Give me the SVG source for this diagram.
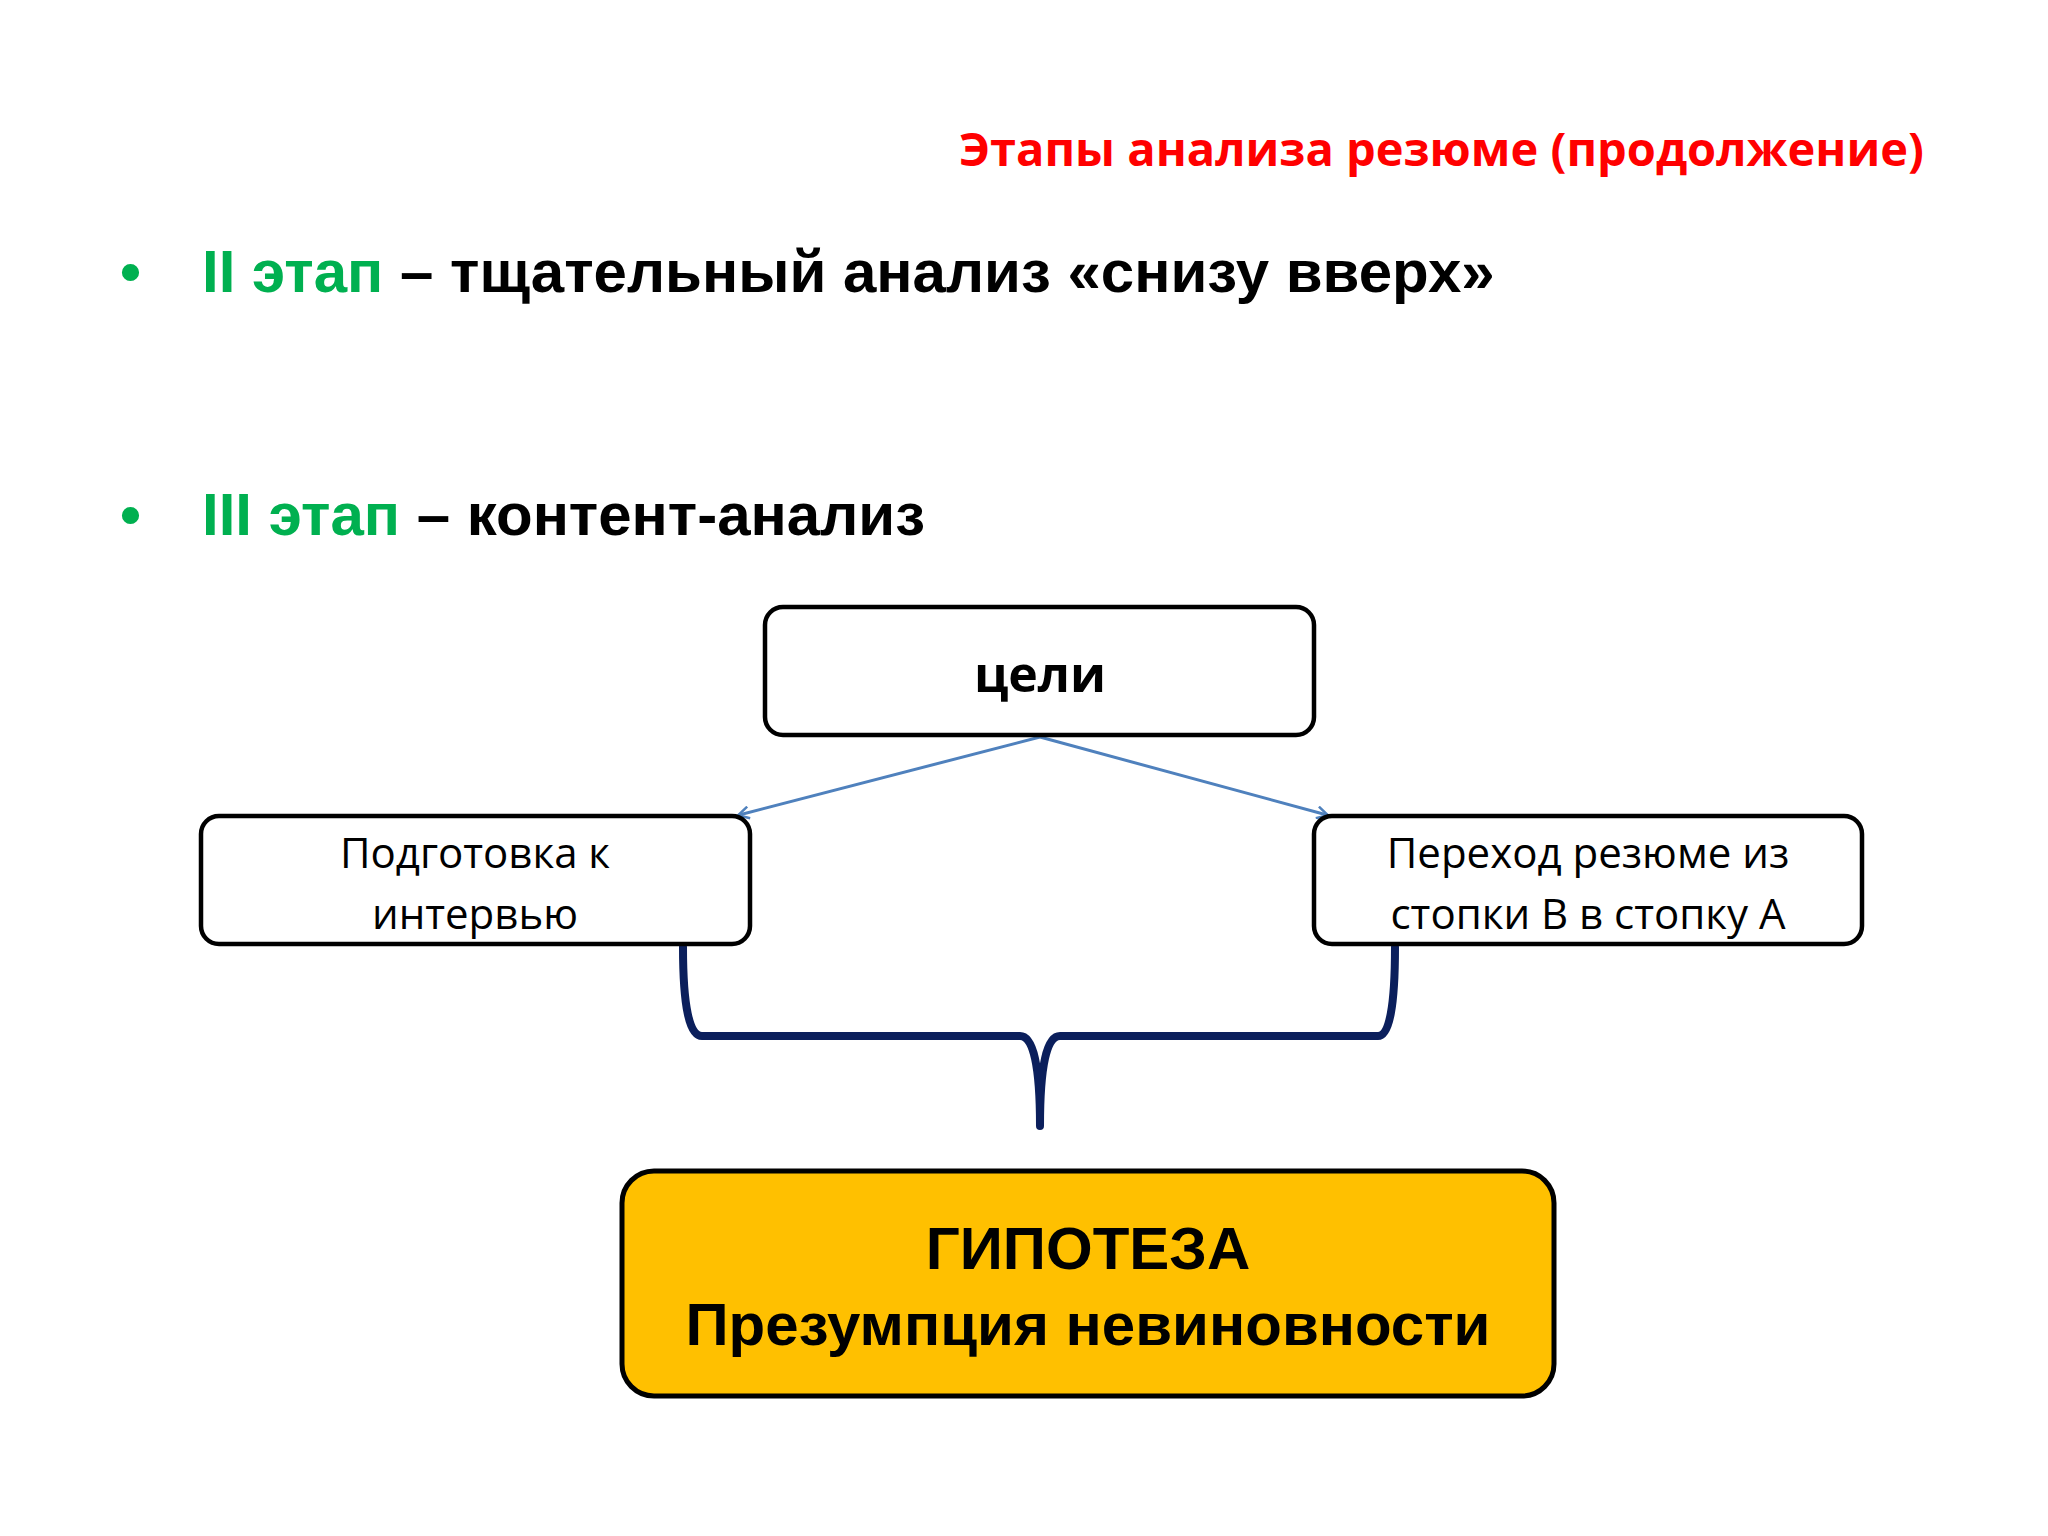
<svg xmlns="http://www.w3.org/2000/svg" width="2048" height="1536" viewBox="0 0 2048 1536">
<style>
.box{fill:#fff;stroke:#000;stroke-width:4.5}
.big{font-family:"Liberation Sans",Arial,sans-serif;font-weight:bold;font-size:60px}
.sm{font-family:"Open Sans","Noto Sans",sans-serif;font-size:42px;fill:#000}
.grn{fill:#00b050}
</style>
<defs>
<marker id="ah" markerWidth="14" markerHeight="14" refX="11" refY="7" orient="auto" markerUnits="userSpaceOnUse">
<path d="M1,1 L12,7 L1,13" fill="none" stroke="#4f81bd" stroke-width="2.5"/>
</marker>
</defs>
<rect width="2048" height="1536" fill="#fff"/>
<text x="1924" y="166" text-anchor="end" font-family="'Open Sans','Noto Sans',sans-serif" font-weight="bold" font-size="47" fill="#ff0000">Этапы анализа резюме (продолжение)</text>
<text class="big" y="292"><tspan x="120" class="grn">•</tspan><tspan x="202" class="grn">II этап</tspan><tspan> – тщательный анализ «снизу вверх»</tspan></text>
<text class="big" y="535"><tspan x="120" class="grn">•</tspan><tspan x="202" class="grn">III этап</tspan><tspan> – контент-анализ</tspan></text>
<g id="connectors">
<line x1="1040" y1="737" x2="739" y2="815" stroke="#4f81bd" stroke-width="3" marker-end="url(#ah)"/>
<line x1="1040" y1="737" x2="1327" y2="815" stroke="#4f81bd" stroke-width="3" marker-end="url(#ah)"/>
<path d="M683,947 Q683,1036 702,1036 L1020,1036 Q1040,1036 1040,1126 Q1040,1036 1060,1036 L1378,1036 Q1395,1036 1395,947" fill="none" stroke="#0b1f5c" stroke-width="8" stroke-linecap="round" stroke-linejoin="round"/>
</g>
<g id="goals">
<rect class="box" x="765" y="607" width="549" height="128" rx="18"/>
<text x="1040" y="692" text-anchor="middle" font-family="'Open Sans','Noto Sans',sans-serif" font-weight="bold" font-size="50">цели</text>
</g>
<g id="prep">
<rect class="box" x="201" y="816" width="549" height="128" rx="18"/>
<text class="sm" x="475" y="868" text-anchor="middle">Подготовка к</text>
<text class="sm" x="475" y="929" text-anchor="middle">интервью</text>
</g>
<g id="move">
<rect class="box" x="1314" y="816" width="548" height="128" rx="18"/>
<text class="sm" x="1588" y="868" text-anchor="middle">Переход резюме из</text>
<text class="sm" x="1588" y="929" text-anchor="middle">стопки В в стопку А</text>
</g>
<g id="hypothesis">
<rect x="622" y="1171" width="932" height="225" rx="32" fill="#ffc000" stroke="#000" stroke-width="5"/>
<text class="big" x="1088" y="1269" text-anchor="middle">ГИПОТЕЗА</text>
<text class="big" x="1088" y="1345" text-anchor="middle">Презумпция невиновности</text>
</g>
</svg>
